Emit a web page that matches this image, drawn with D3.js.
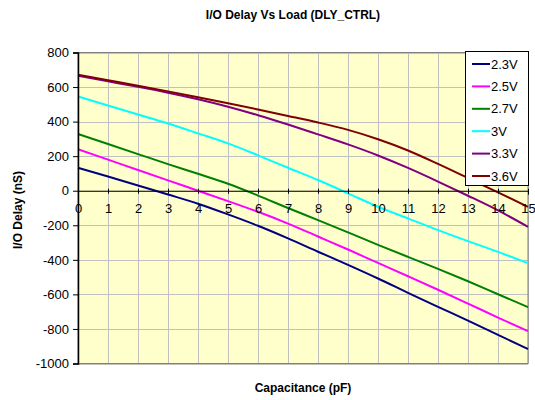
<!DOCTYPE html>
<html>
<head>
<meta charset="utf-8">
<script src="https://cdn.jsdelivr.net/npm/d3@7/dist/d3.min.js"></script>
<style>
  html, body { margin: 0; padding: 0; background: #ffffff; }
  svg { display: block; font-family: Arial, "Liberation Sans", sans-serif; }
</style>
</head>
<body>
<svg id="chart" width="535" height="400"></svg>
<script>
// Load capacitance (pF) at which delay was sampled
const capacitance = [0, 1, 2, 3, 4, 5, 6, 7, 8, 9, 10, 11, 12, 13, 14, 15];

// Delay (nS) for each supply voltage
const v23 = [133, 82, 30, -22, -75, -137, -203, -276, -353, -429, -508, -591, -672, -752, -834, -916];
const v25 = [240, 180, 120, 60, 0, -60, -122, -190, -265, -340, -418, -495, -573, -653, -734, -813];
const v27 = [328, 270, 212, 154, 98, 40, -28, -100, -170, -241, -313, -383, -452, -524, -599, -674];
const v30 = [545, 493, 441, 389, 332, 274, 205, 133, 62, -15, -93, -160, -228, -292, -354, -419];
const v33 = [665, 633, 601, 567, 529, 486, 437, 383, 326, 268, 204, 132, 53, -29, -114, -209];
const v36 = [672, 640, 608, 575, 541, 506, 470, 433, 395, 352, 298, 233, 155, 73, -10, -93];

const seriesNames = ["2.3V", "2.5V", "2.7V", "3V", "3.3V", "3.6V"];
const seriesColors = ["#000080", "#ff00ff", "#008000", "#00ffff", "#800080", "#800000"];
const seriesValues = [v23, v25, v27, v30, v33, v36];

const xTicks = d3.range(0, 16, 1);
const yTicks = d3.range(-1000, 801, 200);

const titleText = "I/O Delay Vs Load (DLY_CTRL)";
const xTitle = "Capacitance (pF)";
const yTitle = "I/O Delay (nS)";

const svg = d3.select("#chart");
const plot = { left: 78, right: 528, top: 52.5, bottom: 363.5 };

const x = d3.scaleLinear().domain([0, 15]).range([plot.left, plot.right]);
const y = d3.scaleLinear().domain([-1000, 800]).range([plot.bottom, plot.top]);

// Plot background
svg.append("rect")
  .attr("x", plot.left).attr("y", plot.top)
  .attr("width", plot.right - plot.left).attr("height", plot.bottom - plot.top)
  .attr("fill", "#ffffcc");

// Gridlines
const grid = svg.append("g").attr("stroke", "#c0c0c0").attr("stroke-width", 1);
grid.selectAll("line.v").data(xTicks.slice(1)).join("line")
  .attr("x1", d => Math.round(x(d)) + 0.5).attr("x2", d => Math.round(x(d)) + 0.5)
  .attr("y1", plot.top).attr("y2", plot.bottom);
grid.selectAll("line.h").data(yTicks).join("line")
  .attr("x1", plot.left).attr("x2", plot.right)
  .attr("y1", d => Math.round(y(d)) + 0.5).attr("y2", d => Math.round(y(d)) + 0.5);

// Plot border
svg.append("rect")
  .attr("x", plot.left).attr("y", plot.top)
  .attr("width", plot.right - plot.left).attr("height", plot.bottom - plot.top)
  .attr("fill", "none").attr("stroke", "#808080").attr("stroke-width", 1);

// Series lines
const line = d3.line()
  .x((d, i) => x(capacitance[i]))
  .y(d => y(d))
  .curve(d3.curveMonotoneX);

svg.append("g").selectAll("path").data(seriesValues).join("path")
  .attr("d", d => line(d))
  .attr("fill", "none")
  .attr("stroke", (d, i) => seriesColors[i])
  .attr("stroke-width", 2);

// Y axis
const yAxis = d3.axisLeft(y).tickValues(yTicks).tickSize(5).tickPadding(4).tickFormat(d => String(d));
const yg = svg.append("g").attr("transform", `translate(${plot.left},0)`).call(yAxis);
yg.select(".domain").attr("stroke", "#000").attr("stroke-width", 1.5);
yg.selectAll(".tick line").attr("stroke", "#000");
yg.selectAll(".tick text").attr("font-size", 13).attr("fill", "#000")
  .attr("font-family", "Arial, 'Liberation Sans', sans-serif");

// X axis drawn at zero
const xAxis = d3.axisBottom(x).tickValues(xTicks).tickSize(4).tickPadding(9).tickFormat(d => String(d));
const xg = svg.append("g").attr("transform", `translate(0,${y(0)})`).call(xAxis);
xg.select(".domain").attr("stroke", "#000").attr("stroke-width", 1);
xg.selectAll(".tick line").attr("stroke", "#000").attr("y1", -2).attr("y2", 3);
xg.selectAll(".tick text").attr("font-size", 13).attr("fill", "#000")
  .attr("font-family", "Arial, 'Liberation Sans', sans-serif");

// Titles
svg.append("text")
  .attr("x", 293).attr("y", 19)
  .attr("text-anchor", "middle")
  .attr("font-weight", "bold").attr("font-size", 12)
  .text(titleText);

svg.append("text")
  .attr("x", 303).attr("y", 392)
  .attr("text-anchor", "middle")
  .attr("font-weight", "bold").attr("font-size", 12)
  .text(xTitle);

svg.append("text")
  .attr("transform", `translate(22,${(plot.top + plot.bottom) / 2 + 2}) rotate(-90)`)
  .attr("text-anchor", "middle")
  .attr("font-weight", "bold").attr("font-size", 12)
  .text(yTitle);

// Legend
const legend = svg.append("g");
legend.append("rect")
  .attr("x", 465.5).attr("y", 51.5).attr("width", 63).attr("height", 134)
  .attr("fill", "#ffffff").attr("stroke", "#000").attr("stroke-width", 1);
const items = legend.selectAll("g.item").data(seriesNames).join("g")
  .attr("transform", (d, i) => `translate(472,${64 + i * 22.4})`);
items.append("line")
  .attr("x1", 0).attr("x2", 18).attr("y1", 0).attr("y2", 0)
  .attr("stroke", (d, i) => seriesColors[i]).attr("stroke-width", 2);
items.append("text")
  .attr("x", 19).attr("y", 4.5)
  .attr("font-size", 13)
  .text(d => d);
</script>
</body>
</html>
